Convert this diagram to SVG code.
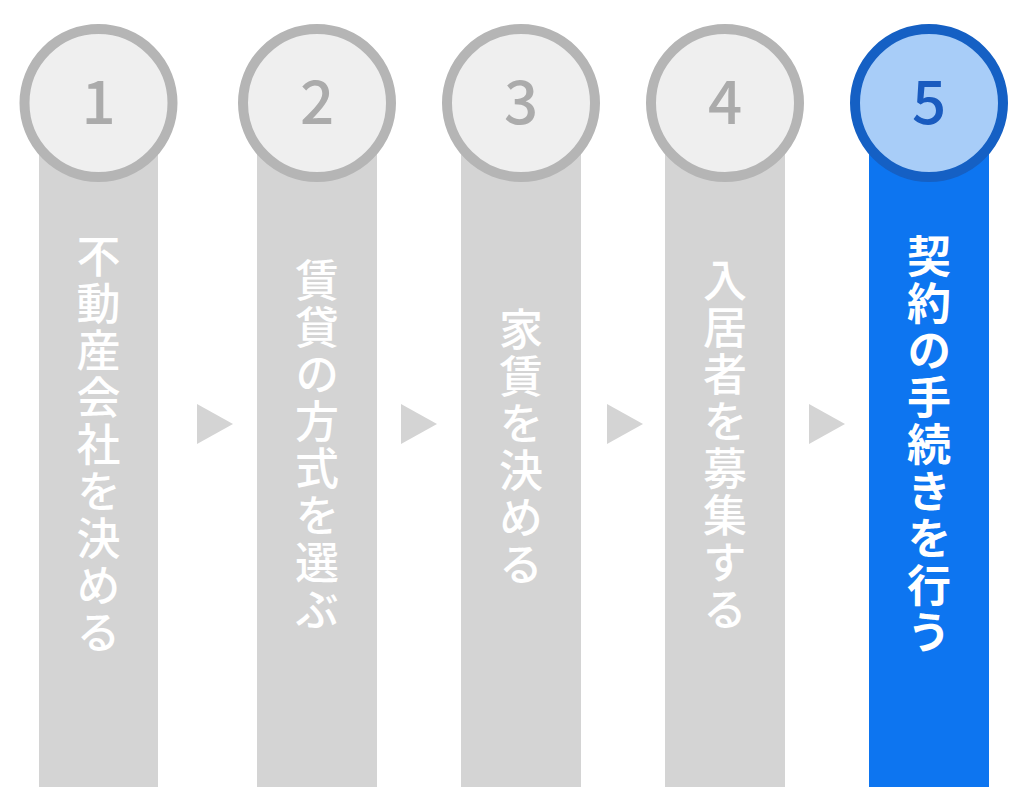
<svg xmlns="http://www.w3.org/2000/svg" width="1024" height="806" viewBox="0 0 1024 806">
<style>
.bar{fill:#d4d4d4}
.bar.on{fill:#0d75f0}
.ring{fill:#efefef;stroke:#b5b5b5;stroke-width:10}
.ring.on{fill:#a8cdf8;stroke:#1560c4}
.num{font-family:"Noto Sans CJK JP","Noto Sans",sans-serif;font-size:60px;font-weight:500;fill:#ababab;text-anchor:middle}
.num.on{fill:#1a5bbf}
.lbl{font-family:"Noto Sans CJK JP",sans-serif;font-size:44px;font-weight:500;fill:#ffffff;writing-mode:vertical-rl;text-anchor:middle;letter-spacing:3px}
.lbl.on{font-weight:700}
.arr{fill:#d4d4d4}
</style>
<rect width="1024" height="806" fill="#ffffff"/>
<g id="step1">
<rect class="bar" x="39" y="103" width="119" height="684"/>
<circle class="ring" cx="98.5" cy="103" r="74"/>
<text class="num" x="98.5" y="124">1</text>
<text class="lbl" x="98.5" y="446">不動産会社を決める</text>
</g>
<g id="step2">
<rect class="bar" x="257" y="103" width="120" height="684"/>
<circle class="ring" cx="317" cy="103" r="74"/>
<text class="num" x="317" y="124">2</text>
<text class="lbl" x="317" y="446">賃貸の方式を選ぶ</text>
</g>
<g id="step3">
<rect class="bar" x="461" y="103" width="120" height="684"/>
<circle class="ring" cx="521" cy="103" r="74"/>
<text class="num" x="521" y="124">3</text>
<text class="lbl" x="521" y="448">家賃を決める</text>
</g>
<g id="step4">
<rect class="bar" x="665" y="103" width="120" height="684"/>
<circle class="ring" cx="725" cy="103" r="74"/>
<text class="num" x="725" y="124">4</text>
<text class="lbl" x="725" y="446">入居者を募集する</text>
</g>
<g id="step5">
<rect class="bar on" x="869" y="103" width="120" height="684"/>
<circle class="ring on" cx="929" cy="103" r="74"/>
<text class="num on" x="929" y="124">5</text>
<text class="lbl on" x="929" y="446">契約の手続きを行う</text>
</g>
<g id="connectors">
<polygon class="arr" points="197,404 233,424 197,444"/>
<polygon class="arr" points="401,404 437,424 401,444"/>
<polygon class="arr" points="607,404 643,424 607,444"/>
<polygon class="arr" points="809,404 845,424 809,444"/>
</g>
</svg>
